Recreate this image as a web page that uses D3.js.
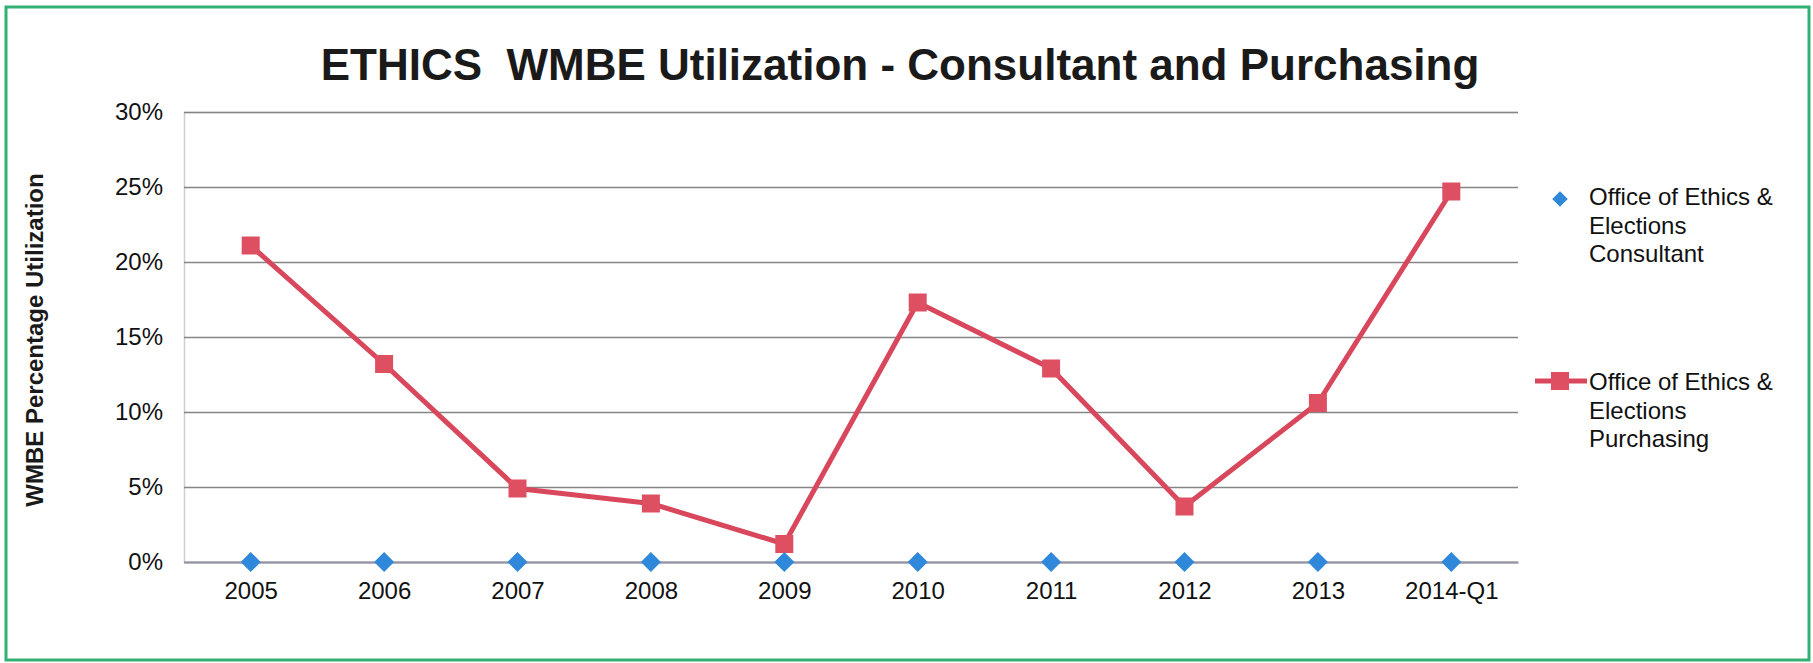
<!DOCTYPE html>
<html>
<head>
<meta charset="utf-8">
<script src="https://cdn.jsdelivr.net/npm/d3@7"></script>
<style>
    body { margin: 0; background: white; }
    svg { display: block; font-family: "Liberation Sans", Arial, sans-serif; }
</style>
</head>
<body>
<svg id="chart" width="1813" height="663"></svg>
<script>
// chart data
let categories = ['2005', '2006', '2007', '2008', '2009', '2010', '2011', '2012', '2013', '2014-Q1']
let consultantValues = [0, 0, 0, 0, 0, 0, 0, 0, 0, 0]
let purchasingValues = [0.211, 0.132, 0.049, 0.039, 0.012, 0.173, 0.129, 0.037, 0.106, 0.247]
let yTicks = [0, 0.05, 0.10, 0.15, 0.20, 0.25, 0.30]
let seriesNames = ['Office of Ethics & Elections Consultant', 'Office of Ethics & Elections Purchasing']
let chartTitle = 'ETHICS  WMBE Utilization - Consultant and Purchasing'
let yTitle = 'WMBE Percentage Utilization'

let blue = '#2f88da'
let red = '#d8475b'

let svg = d3.select('#chart')

// green frame round the whole chart
svg.append('rect')
    .attr('x', 6)
    .attr('y', 7)
    .attr('width', 1803)
    .attr('height', 653)
    .attr('fill', 'white')
    .attr('stroke', '#35b074')
    .attr('stroke-width', 3)

let plot = {left: 184, right: 1518, top: 112, bottom: 562}

let x = d3.scalePoint()
    .domain(categories)
    .range([plot.left, plot.right])
    .padding(0.5)

let y = d3.scaleLinear()
    .domain([0, 0.30])
    .range([plot.bottom, plot.top])

// gridlines + y labels
let yAxis = d3.axisLeft(y)
    .tickValues(yTicks)
    .tickSize(-(plot.right - plot.left))
    .tickPadding(21)
    .tickFormat(d3.format('.0%'))

let yg = svg.append('g')
    .attr('transform', 'translate(' + plot.left + ',0)')
    .call(yAxis)
yg.select('.domain')
    .attr('stroke', '#cfcfcf')
    .attr('stroke-width', 1.5)
yg.selectAll('.tick line')
    .attr('stroke', '#858585')
    .attr('stroke-width', 1.5)
yg.selectAll('.tick text')
    .attr('fill', '#111')
    .attr('font-size', '24px')
    .attr('font-family', '"Liberation Sans", Arial, sans-serif')

// x labels
let xAxis = d3.axisBottom(x)
    .tickSize(0)
    .tickPadding(20)
let xg = svg.append('g')
    .attr('transform', 'translate(0,' + plot.bottom + ')')
    .call(xAxis)
xg.select('.domain')
    .attr('stroke', '#9494a6')
    .attr('stroke-width', 2)
xg.selectAll('.tick text')
    .attr('fill', '#111')
    .attr('font-size', '24px')
    .attr('font-family', '"Liberation Sans", Arial, sans-serif')

// title
svg.append('text')
    .attr('x', 900)
    .attr('y', 80)
    .attr('text-anchor', 'middle')
    .attr('font-size', '44px')
    .attr('font-weight', 'bold')
    .attr('fill', '#1a1a1a')
    .attr('xml:space', 'preserve')
    .style('white-space', 'pre')
    .text(chartTitle)

svg.append('text')
    .attr('transform', 'translate(43,340) rotate(-90)')
    .attr('text-anchor', 'middle')
    .attr('font-size', '24px')
    .attr('font-weight', 'bold')
    .attr('fill', '#1a1a1a')
    .text(yTitle)

// purchasing line
let line = d3.line()
    .x(function(d, i) { return x(categories[i]) })
    .y(function(d) { return y(d) })

svg.append('path')
    .datum(purchasingValues)
    .attr('d', line)
    .attr('fill', 'none')
    .attr('stroke', red)
    .attr('stroke-width', 5)
    .attr('stroke-linejoin', 'round')

let sq = 18
svg.append('g').selectAll('rect')
    .data(purchasingValues)
    .join('rect')
    .attr('x', function(d, i) { return x(categories[i]) - sq / 2 })
    .attr('y', function(d) { return y(d) - sq / 2 })
    .attr('width', sq)
    .attr('height', sq)
    .attr('fill', '#de4f62')

// consultant markers only
let diamond = d3.symbol().type(d3.symbolSquare).size(200)
svg.append('g').selectAll('path')
    .data(consultantValues)
    .join('path')
    .attr('d', diamond)
    .attr('transform', function(d, i) { return 'translate(' + x(categories[i]) + ',' + y(d) + ') rotate(45)' })
    .attr('fill', blue)

// legend
function drawLegendText(lines, yStart) {
    let t = svg.append('text')
        .attr('x', 1589)
        .attr('y', yStart)
        .attr('font-size', '24px')
        .attr('fill', '#111')
    lines.forEach(function(s, i) {
        t.append('tspan')
            .attr('x', 1589)
            .attr('dy', i === 0 ? 0 : 28.5)
            .text(s)
    })
}

svg.append('path')
    .attr('d', d3.symbol().type(d3.symbolSquare).size(120))
    .attr('transform', 'translate(1560,199) rotate(45)')
    .attr('fill', blue)
drawLegendText(['Office of Ethics &', 'Elections', 'Consultant'], 205)

svg.append('line')
    .attr('x1', 1535)
    .attr('x2', 1587)
    .attr('y1', 381)
    .attr('y2', 381)
    .attr('stroke', red)
    .attr('stroke-width', 5)
svg.append('rect')
    .attr('x', 1560 - sq / 2)
    .attr('y', 381 - sq / 2)
    .attr('width', sq)
    .attr('height', sq)
    .attr('fill', '#de4f62')
drawLegendText(['Office of Ethics &', 'Elections', 'Purchasing'], 390)
</script>
</body>
</html>
